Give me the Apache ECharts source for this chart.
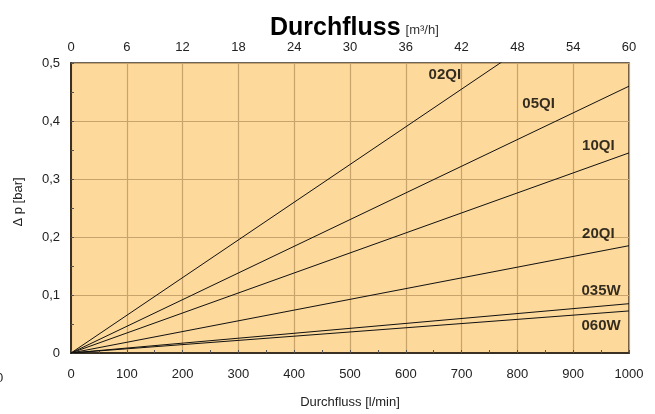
<!DOCTYPE html>
<html>
<head>
<meta charset="utf-8">
<script src="https://cdn.jsdelivr.net/npm/echarts@6/dist/echarts.min.js"></script>
<style>html,body{margin:0;padding:0;background:#fff;}#c{width:655px;height:414px;}</style>
</head>
<body>
<div id="c"></div>
<script>
// Data (flow in l/min, pressure drop in bar at 1000 l/min; straight lines from origin)
const seriesNames = ['02QI', '05QI', '10QI', '20QI', '035W', '060W'];
const endFlow = 1000;
const endDp = [0.65, 0.46, 0.345, 0.185, 0.085, 0.0725];
// Label anchor points (data coordinates: l/min, bar)
const labelX = [670, 838, 945, 945, 950, 950];
const labelY = [0.48, 0.43, 0.358, 0.205, 0.107, 0.047];
// Axis ticks
const xBottomMax = 1000, xBottomStep = 100;
const xTopMax = 60, xTopStep = 6;
const yMax = 0.5, yStep = 0.1;

const FONT = 'Liberation Sans, Arial, Helvetica, sans-serif';
const chart = echarts.init(document.getElementById('c'), null, {renderer: 'canvas'});

const lineSeries = seriesNames.map((n, i) => ({
  name: n, type: 'line', xAxisIndex: 0, yAxisIndex: 0,
  data: [[0, 0], [endFlow, endDp[i]]],
  showSymbol: false, symbol: 'none', clip: true,
  lineStyle: {color: '#111', width: 1}, silent: true, z: 3
}));

const labelSeries = {
  type: 'scatter', xAxisIndex: 0, yAxisIndex: 0, symbolSize: 0, silent: true, z: 4,
  data: seriesNames.map((n, i) => ({value: [labelX[i], labelY[i]], name: n})),
  label: {show: true, position: 'inside', formatter: p => p.name,
    fontFamily: FONT, fontWeight: 'bold', fontSize: 15, color: '#000'}
};

chart.setOption({
  animation: false,
  backgroundColor: '#fff',
  title: {
    text: '{a|Durchfluss} {b|[m³/h]}',
    left: 265, top: 8,
    textStyle: {
      rich: {
        a: {fontFamily: FONT, fontWeight: 'bold', fontSize: 25, color: '#000', verticalAlign: 'bottom', lineHeight: 28},
        b: {fontFamily: FONT, fontWeight: 'normal', fontSize: 13, color: '#333', verticalAlign: 'bottom', lineHeight: 28, padding: [0, 0, 4, 0]}
      }
    }
  },
  grid: {left: 71, right: 26, top: 63, bottom: 58, show: true,
    backgroundColor: '#fdd99b', borderColor: '#3a3124', borderWidth: 1.5},
  xAxis: [{
    type: 'value', position: 'bottom', min: 0, max: xBottomMax, interval: xBottomStep,
    axisLine: {show: true, lineStyle: {color: '#3a3124', width: 2}},
    axisTick: {show: true, inside: true, length: 3, lineStyle: {color: '#555'}},
    minorTick: {show: true, splitNumber: 2, length: 3, lineStyle: {color: '#555'}},
    splitLine: {show: true, lineStyle: {color: '#c8a36c', width: 1.2}},
    axisLabel: {fontFamily: FONT, fontSize: 13, color: '#222', margin: 15, formatter: v => String(v)},
    name: 'Durchfluss [l/min]', nameLocation: 'middle', nameGap: 43,
    nameTextStyle: {fontFamily: FONT, fontSize: 13, color: '#222'}
  }, {
    type: 'value', position: 'top', min: 0, max: xTopMax, interval: xTopStep,
    axisLine: {show: false}, axisTick: {show: false}, splitLine: {show: false},
    axisLabel: {fontFamily: FONT, fontSize: 13, color: '#222', margin: 9}
  }],
  yAxis: [{
    type: 'value', min: 0, max: yMax, interval: yStep,
    axisLine: {show: true, lineStyle: {color: '#3a3124', width: 2}},
    axisTick: {show: true, inside: true, length: 3, lineStyle: {color: '#555'}},
    minorTick: {show: true, splitNumber: 2, length: 3, lineStyle: {color: '#555'}},
    splitLine: {show: true, lineStyle: {color: '#c8a36c', width: 1.2}},
    axisLabel: {fontFamily: FONT, fontSize: 13, color: '#222', margin: 11,
      formatter: v => v === 0 ? '0' : v.toFixed(1).replace('.', ',')}
  }],
  graphic: [
    {type: 'text', x: 18.5, y: 202, rotation: Math.PI / 2,
      style: {text: 'Δ p [bar]', fontFamily: FONT, fontSize: 13, fill: '#222',
        align: 'center', verticalAlign: 'middle'}},
    {type: 'text', x: -4, y: 378,
      style: {text: '0', fontFamily: FONT, fontSize: 13, fill: '#222',
        align: 'left', verticalAlign: 'middle'}}
  ],
  series: lineSeries.concat([labelSeries])
});
</script>
</body>
</html>
